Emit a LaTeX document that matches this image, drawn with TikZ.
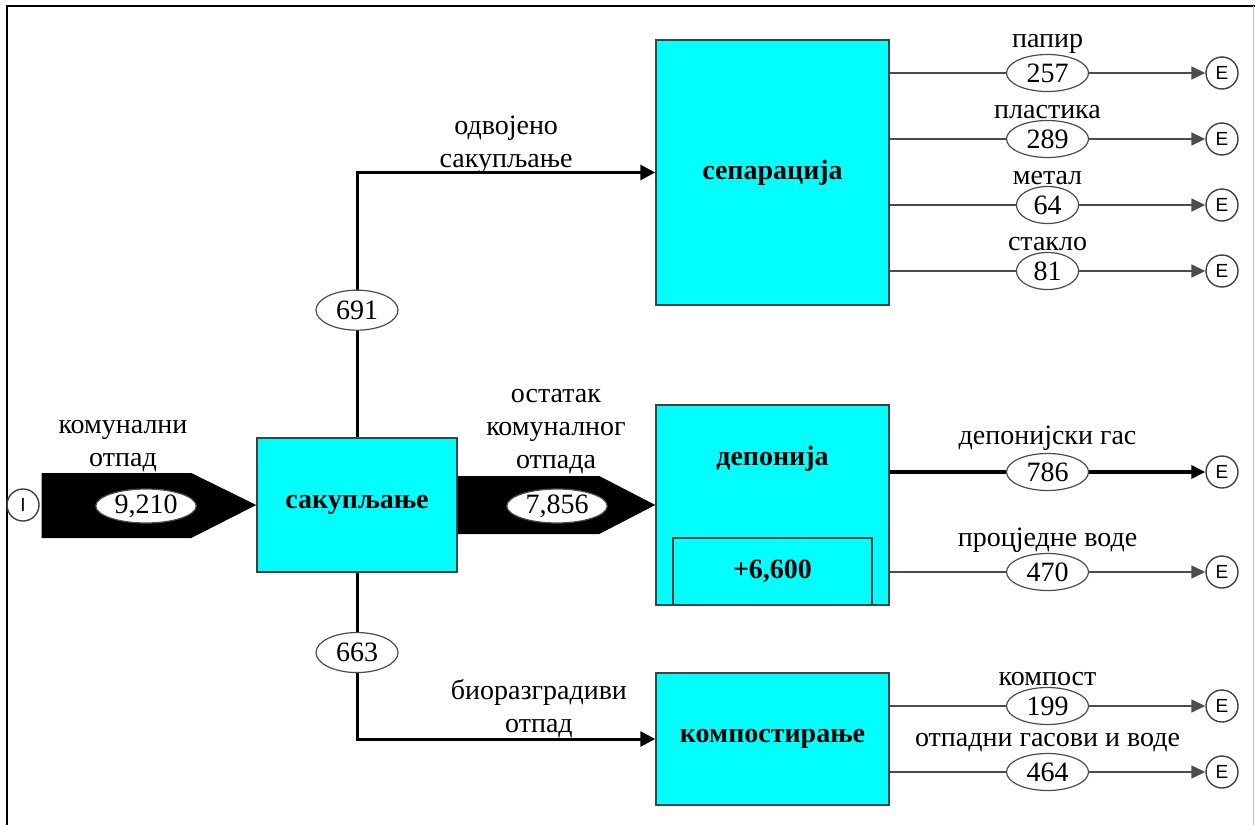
\documentclass[tikz,border=0pt]{standalone}
\usepackage{fontspec}
\setmainfont{Liberation Serif}
\newfontfamily\endfont{Liberation Sans}
\usetikzlibrary{positioning,arrows.meta,calc}
\usepgflibrary{shapes.geometric}
\definecolor{boxcyan}{RGB}{0,255,255}
\tikzset{%
procbox/.style={draw=black!75,fill=boxcyan,line width=0.75pt,font=\bfseries,inner sep=0},
value/.style={draw=black!70,fill=white,ellipse,line width=0.6pt,inner xsep=4pt,inner ysep=0,minimum height=18.5pt},
flowtext/.style={align=center,inner sep=0},
endpoint/.style={draw=black!75,circle,line width=0.7pt,minimum size=16pt,inner sep=0,font=\endfont\fontsize{9.5}{9.5}\selectfont},
outflow/.style={draw=black!70,line width=0.75pt,-{Triangle[length=7pt,width=6.5pt]}},
mainflow/.style={draw=black,line width=1.5pt,-{Triangle[length=7.5pt,width=7.5pt]}},
blackflow/.style={fill=black},
every label/.style={flowtext,label distance=0pt}
}
\begin{document}
\begin{tikzpicture}[x=0.5pt,y=-0.5pt,node font={\fontsize{14}{16.5}\selectfont}]
  \useasboundingbox (0,0) rectangle (1255,825);
  % frame
  \draw[line width=1pt] (7,825) -- (7,6) -- (1255,6);
  \draw[black!25,line width=0.5pt] (1253,6) -- (1253,825);

  % processes
  \node[endpoint] (in) at (23,505) {I};
  \node[procbox,minimum width=100pt,minimum height=67pt] (sak) at (357,505) {сакупљање};
  \node[procbox,minimum width=116.5pt,minimum height=132.5pt] (sep) at (772.5,172.5) {сепарација};
  \node[procbox,minimum width=116.5pt,minimum height=100pt] (dep) at (772.5,505) {};
  \node[font=\bfseries,inner sep=0] (deptext) at (772.5,459) {депонија};
  \node[procbox,minimum width=99.5pt,minimum height=33.5pt,anchor=south] (stock) at (dep.south) {+6,600};
  \node[procbox,minimum width=116.5pt,minimum height=66pt] (komp) at (772.5,739) {компостирање};

  % main flows
  \fill[blackflow] ($(in.east)+(2,-32)$) -- ($(sak.west)+(-65,-32)$) -- (sak.west)
    -- ($(sak.west)+(-65,33)$) -- ($(in.east)+(2,33)$) -- cycle;
  \node[value,inner xsep=2pt,minimum height=17pt] (v9210) at (146,506) {9,210};
  \node[flowtext,anchor=south] (lin) at (123,472) {комунални\\отпад};

  \fill[blackflow] ($(sak.east)+(0,-29)$) -- ($(dep.west)+(-56,-29)$) -- (dep.west)
    -- ($(dep.west)+(-56,29)$) -- ($(sak.east)+(0,29)$) -- cycle;
  \node[value,inner xsep=2pt,minimum height=17pt] (v7856) at (557,506) {7,856};
  \node[flowtext,anchor=south] (lrest) at (556,474) {остатак\\комуналног\\отпада};

  \draw[mainflow] (sak.north) -- node[value,minimum height=20pt,pos=0.48] (v691) {691}
    (sak.north |- sep.west) -- node[flowtext,above,yshift=-1.5pt] (lsep) {одвојено\\сакупљање} (sep.west);
  \draw[mainflow] (sak.south) -- node[value,minimum height=20pt,pos=0.48] (v663) {663}
    (sak.south |- komp.west) -- node[flowtext,above,pos=0.61] (lbio) {биоразградиви\\отпад} (komp.west);

  % outputs
  \foreach \y/\val/\txt [count=\i] in {73/257/папир,139/289/пластика,205/64/метал,271/81/стакло} {
    \node[endpoint] (es\i) at (1222,\y) {E};
    \draw[outflow] (sep.east |- es\i) -- node[value,label={above:\txt}] (vs\i) {\val} (es\i);
  }
  \node[endpoint] (ed1) at (1222,472) {E};
  \draw[outflow,draw=black,line width=2pt] (dep.east |- ed1) -- node[value,label={above:депонијски гас}] (vd1) {786} (ed1);
  \node[endpoint] (ed2) at (1222,572) {E};
  \draw[outflow] (dep.east |- ed2) -- node[value,label={above:процједне воде}] (vd2) {470} (ed2);
  \node[endpoint] (ek1) at (1222,706) {E};
  \draw[outflow] (komp.east |- ek1) -- node[value,label={above:компост}] (vk1) {199} (ek1);
  \node[endpoint] (ek2) at (1222,772) {E};
  \draw[outflow] (komp.east |- ek2) -- node[value,label={above:отпадни гасови и воде}] (vk2) {464} (ek2);
\end{tikzpicture}
\end{document}
